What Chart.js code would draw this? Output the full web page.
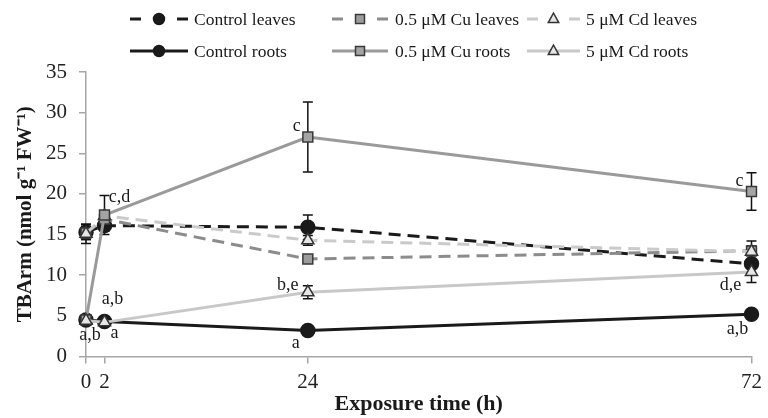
<!DOCTYPE html>
<html>
<head>
<meta charset="utf-8">
<script src="https://cdn.jsdelivr.net/npm/chart.js@4.4.0/dist/chart.umd.min.js"></script>
<style>
html,body{margin:0;padding:0;background:#fff;}
#wrap{width:768px;height:418px;position:relative;}
</style>
</head>
<body>
<div id="wrap"><canvas id="c" width="768" height="418"></canvas></div>
<script>
// ---- data ----
const hours = [0, 2, 24, 72];
const xTickValues = [0, 2, 24, 72];
const yMin = 0, yMax = 35, yStep = 5;

const seriesNames = ["Control leaves", "0.5 \u03bcM Cu leaves", "5 \u03bcM Cd leaves",
                     "Control roots", "0.5 \u03bcM Cu roots", "5 \u03bcM Cd roots"];
const controlLeaves = [15.3, 16.1, 15.9, 11.4];
const cuLeaves      = [15.2, 16.9, 12.0, 13.0];
const cdLeaves      = [15.1, 17.3, 14.3, 12.9];
const controlRoots  = [4.5, 4.3, 3.2, 5.2];
const cuRoots       = [4.5, 17.4, 27.0, 20.3];
const cdRoots       = [4.4, 4.2, 7.9, 10.4];

const controlLeavesErr = [0.9, 0.7, 1.5, 0.5];
const cuLeavesErr      = [0.8, 0.5, 0.4, 0.6];
const cdLeavesErr      = [1.2, 0.6, 0.6, 1.3];
const controlRootsErr  = [0.3, 0.3, 0.2, 0.3];
const cuRootsErr       = [0.4, 2.4, 4.3, 2.3];
const cdRootsErr       = [0.3, 0.3, 0.8, 1.3];

// significance letters: [text, series index, point index]
const sigLetters = [
  ["a,b", 3, 0], ["a", 3, 1], ["a,b", 5, 1], ["c,d", 4, 1],
  ["c", 4, 2], ["b,e", 5, 2], ["a", 3, 2],
  ["d,e", 5, 3], ["a,b", 3, 3], ["c", 4, 3]
];
// ---- layout / style (not data) ----
const sigOffsets = [[4,15],[10,12],[8,-23],[15,-18],[-11,-11],[-20,-7],[-12,13],[-21,13],[-14,15],[-12,-10]];
const SERIF = "'Liberation Serif', 'Times New Roman', serif";

const values = [controlLeaves, cuLeaves, cdLeaves, controlRoots, cuRoots, cdRoots];
const errors = [controlLeavesErr, cuLeavesErr, cdLeavesErr, controlRootsErr, cuRootsErr, cdRootsErr];
const styles = [
  {color:'#1a1a1a', dash:[12,7], point:'circle',   fill:'#1a1a1a', border:'#1a1a1a'},
  {color:'#8c8c8c', dash:[12,7], point:'rect',     fill:'#9c9c9c', border:'#3a3a3a'},
  {color:'#cacaca', dash:[12,7], point:'triangle', fill:'#e6e6e6', border:'#333333'},
  {color:'#1a1a1a', dash:[],     point:'circle',   fill:'#1a1a1a', border:'#1a1a1a'},
  {color:'#9a9a9a', dash:[],     point:'rect',     fill:'#a4a4a4', border:'#3a3a3a'},
  {color:'#c8c8c8', dash:[],     point:'triangle', fill:'#e6e6e6', border:'#333333'}
];

const datasets = values.map((vals, i) => ({
  label: seriesNames[i],
  data: hours.map((h, j) => ({x: h, y: vals[j]})),
  order: values.length - i,
  borderColor: styles[i].color,
  borderDash: styles[i].dash,
  borderWidth: 3,
  pointStyle: styles[i].point,
  pointRadius: 7,
  pointBackgroundColor: styles[i].fill,
  pointBorderColor: styles[i].border,
  pointBorderWidth: 1.5,
  tension: 0,
  fill: false,
  clip: false
}));

const errorBars = {
  id: 'errorBars',
  beforeDatasetsDraw(chart) {
    const ctx = chart.ctx, xs = chart.scales.x, ys = chart.scales.y;
    ctx.save();
    ctx.strokeStyle = '#111';
    ctx.lineWidth = 1.5;
    values.forEach((vals, i) => {
      vals.forEach((v, j) => {
        const e = errors[i][j];
        const px = xs.getPixelForValue(hours[j]);
        const top = ys.getPixelForValue(v + e), bot = ys.getPixelForValue(v - e);
        ctx.beginPath();
        ctx.moveTo(px, top); ctx.lineTo(px, bot);
        ctx.moveTo(px - 5, top); ctx.lineTo(px + 5, top);
        ctx.moveTo(px - 5, bot); ctx.lineTo(px + 5, bot);
        ctx.stroke();
      });
    });
    ctx.restore();
  }
};

function drawMarker(ctx, style, x, y, r) {
  ctx.save();
  ctx.fillStyle = style.fill; ctx.strokeStyle = style.border; ctx.lineWidth = 1.5;
  ctx.beginPath();
  if (style.point === 'circle') {
    ctx.arc(x, y, r, 0, Math.PI * 2);
  } else if (style.point === 'rect') {
    ctx.rect(x - r * 0.75, y - r * 0.75, r * 1.5, r * 1.5);
  } else {
    ctx.moveTo(x, y - r); ctx.lineTo(x + r * 0.87, y + r * 0.6); ctx.lineTo(x - r * 0.87, y + r * 0.6); ctx.closePath();
  }
  ctx.fill(); ctx.stroke();
  ctx.restore();
}

const customLegend = {
  id: 'customLegend',
  afterDraw(chart) {
    const ctx = chart.ctx;
    const colLine = [[130, 188], [332, 388], [527, 580]];
    const colText = [194, 395, 586];
    const rowY = [19, 51];
    ctx.save();
    ctx.font = "17.5px " + SERIF;
    ctx.textBaseline = 'middle';
    ctx.fillStyle = '#1a1a1a';
    seriesNames.forEach((name, i) => {
      const row = Math.floor(i / 3), col = i % 3;
      const st = styles[i];
      const [x0, x1] = colLine[col];
      const y = rowY[row];
      const mid = (x0 + x1) / 2;
      ctx.strokeStyle = st.color; ctx.lineWidth = 3;
      ctx.beginPath();
      if (st.dash.length) {
        ctx.moveTo(x0, y); ctx.lineTo(x0 + 11, y);
        ctx.moveTo(x1 - 11, y); ctx.lineTo(x1, y);
      } else {
        ctx.moveTo(x0, y); ctx.lineTo(x1, y);
      }
      ctx.stroke();
      drawMarker(ctx, st, mid, y, st.point === 'circle' ? 5.5 : 6);
      ctx.fillText(name, colText[col], y + 1);
    });
    ctx.restore();
  }
};

const sigPlugin = {
  id: 'sigLetters',
  afterDatasetsDraw(chart) {
    const ctx = chart.ctx, xs = chart.scales.x, ys = chart.scales.y;
    ctx.save();
    ctx.font = "18px " + SERIF;
    ctx.fillStyle = '#1a1a1a';
    ctx.textAlign = 'center';
    ctx.textBaseline = 'middle';
    sigLetters.forEach(([t, si, pi], k) => {
      const px = xs.getPixelForValue(hours[pi]) + sigOffsets[k][0];
      const py = ys.getPixelForValue(values[si][pi]) + sigOffsets[k][1];
      ctx.fillText(t, px, py);
    });
    ctx.restore();
  }
};

new Chart(document.getElementById('c'), {
  type: 'line',
  data: { datasets },
  plugins: [errorBars, customLegend, sigPlugin],
  options: {
    responsive: false,
    animation: false,
    devicePixelRatio: 1,
    layout: { padding: { top: 72, right: 11, left: 0, bottom: 0 } },
    plugins: { legend: { display: false }, tooltip: { enabled: false } },
    scales: {
      x: {
        type: 'linear', min: 0, max: 72,
        afterBuildTicks: (s) => { s.ticks = xTickValues.map(v => ({ value: v })); },
        afterFit: (s) => { s.height = 61.5; },
        grid: { drawOnChartArea: false, drawTicks: true, tickLength: 7, color: '#a6a6a6', lineWidth: 1.5 },
        border: { color: '#a6a6a6', width: 1.5 },
        ticks: { font: { family: SERIF, size: 21 }, color: '#222', padding: 6, maxRotation: 0, autoSkip: false },
        title: { display: true, text: 'Exposure time (h)', font: { family: SERIF, size: 22, weight: 'bold' }, color: '#1a1a1a', padding: { top: 0, bottom: 0 } }
      },
      y: {
        min: yMin, max: yMax,
        ticks: { stepSize: yStep, font: { family: SERIF, size: 21 }, color: '#222', padding: 12 },
        afterFit: (s) => { s.width = 86; },
        grid: { drawOnChartArea: false, drawTicks: true, tickLength: 7, color: '#a6a6a6', lineWidth: 1.5 },
        border: { color: '#a6a6a6', width: 1.5 },
        title: { display: true, text: 'TBArm (nmol g\u207B\u00B9 FW\u207B\u00B9)', font: { family: SERIF, size: 21, weight: 'bold' }, color: '#1a1a1a', padding: { top: 13, bottom: 0 } }
      }
    }
  }
});
</script>
</body>
</html>
